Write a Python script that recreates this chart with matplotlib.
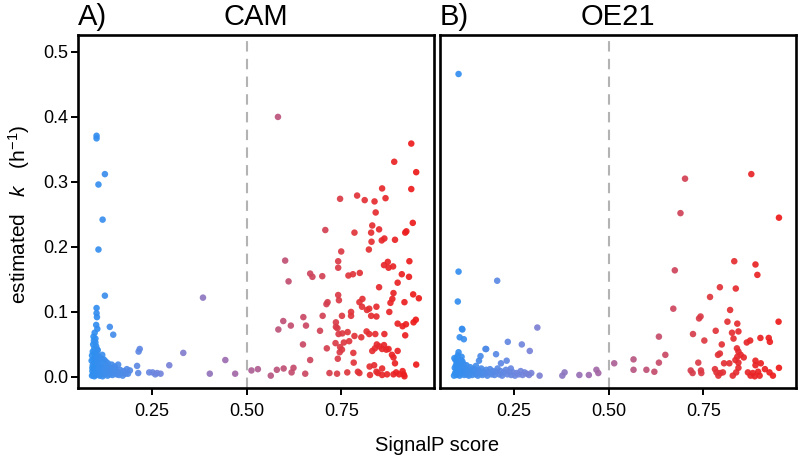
import numpy as np
import matplotlib
matplotlib.use('Agg')
import matplotlib.pyplot as plt
from matplotlib.colors import LinearSegmentedColormap, Normalize

plt.rcParams['font.family'] = 'Liberation Sans'
plt.rcParams['mathtext.fontset'] = 'custom'
plt.rcParams['mathtext.rm'] = 'Liberation Sans'
plt.rcParams['mathtext.it'] = 'Liberation Sans:italic'

panel_tags = ['A)', 'B)']
panel_names = ['CAM', 'OE21']
x_ticks = [0.25, 0.50, 0.75]
y_ticks = [0.0, 0.1, 0.2, 0.3, 0.4, 0.5]

# CAM: (SignalP score, estimated k)
cam_pts = [
    (0.583, 0.400), (0.104, 0.371), (0.104, 0.367), (0.935, 0.359), (0.890, 0.331), (0.948, 0.315),
    (0.126, 0.312), (0.109, 0.296), (0.858, 0.290), (0.935, 0.289), (0.747, 0.274), (0.792, 0.279),
    (0.812, 0.272), (0.838, 0.270), (0.867, 0.275), (0.841, 0.253), (0.120, 0.242), (0.939, 0.237),
    (0.708, 0.226), (0.785, 0.222), (0.832, 0.233), (0.829, 0.222), (0.850, 0.227), (0.830, 0.208),
    (0.857, 0.210), (0.864, 0.213), (0.892, 0.211), (0.919, 0.222), (0.922, 0.224), (0.109, 0.196),
    (0.823, 0.196), (0.750, 0.193), (0.602, 0.179), (0.742, 0.178), (0.742, 0.168), (0.873, 0.177),
    (0.863, 0.172), (0.875, 0.168), (0.887, 0.170), (0.930, 0.178), (0.668, 0.159), (0.674, 0.154),
    (0.700, 0.155), (0.769, 0.156), (0.781, 0.158), (0.799, 0.160), (0.910, 0.158), (0.929, 0.154),
    (0.611, 0.147), (0.850, 0.138), (0.899, 0.145), (0.126, 0.125), (0.385, 0.122), (0.888, 0.129),
    (0.885, 0.120), (0.880, 0.114), (0.940, 0.127), (0.955, 0.121), (0.917, 0.115), (0.742, 0.126),
    (0.744, 0.118), (0.714, 0.115), (0.711, 0.112), (0.806, 0.120), (0.798, 0.115), (0.805, 0.108),
    (0.818, 0.103), (0.824, 0.105), (0.843, 0.108), (0.829, 0.094), (0.843, 0.093), (0.776, 0.100),
    (0.776, 0.094), (0.752, 0.094), (0.877, 0.100), (0.701, 0.094), (0.650, 0.092), (0.597, 0.086),
    (0.617, 0.079), (0.584, 0.073), (0.657, 0.079), (0.694, 0.071), (0.736, 0.084), (0.736, 0.077),
    (0.740, 0.075), (0.899, 0.082), (0.912, 0.078), (0.921, 0.081), (0.941, 0.084), (0.947, 0.088),
    (0.743, 0.066), (0.753, 0.067), (0.767, 0.069), (0.785, 0.063), (0.803, 0.061), (0.817, 0.070),
    (0.824, 0.066), (0.840, 0.066), (0.864, 0.066), (0.919, 0.064), (0.649, 0.050), (0.735, 0.052),
    (0.757, 0.053), (0.771, 0.055), (0.747, 0.046), (0.752, 0.042), (0.712, 0.044), (0.746, 0.038),
    (0.782, 0.037), (0.832, 0.040), (0.839, 0.044), (0.844, 0.050), (0.851, 0.047), (0.858, 0.043),
    (0.863, 0.049), (0.869, 0.042), (0.875, 0.043), (0.884, 0.034), (0.888, 0.030), (0.899, 0.040),
    (0.668, 0.026), (0.783, 0.022), (0.837, 0.018), (0.825, 0.016), (0.858, 0.013), (0.892, 0.021),
    (0.948, 0.019), (0.741, 0.028),
    (0.564, 0.002), (0.580, 0.011), (0.598, 0.013), (0.619, 0.007), (0.624, 0.014), (0.655, 0.005),
    (0.719, 0.006), (0.739, 0.005), (0.766, 0.007), (0.794, 0.008), (0.798, 0.006), (0.826, 0.003),
    (0.843, 0.008), (0.847, 0.006), (0.858, 0.003), (0.871, 0.004), (0.888, 0.004), (0.895, 0.007),
    (0.903, 0.004), (0.912, 0.009), (0.915, 0.004), (0.917, 0.001),
    (0.513, 0.010), (0.530, 0.012), (0.470, 0.005), (0.444, 0.026), (0.403, 0.005), (0.333, 0.037),
    (0.296, 0.018), (0.218, 0.043), (0.215, 0.039), (0.243, 0.007), (0.252, 0.007), (0.259, 0.004),
    (0.264, 0.006), (0.273, 0.005), (0.214, 0.006), (0.211, 0.017), (0.192, 0.010), (0.187, 0.005),
    (0.139, 0.077), (0.148, 0.065),
    (0.104, 0.106), (0.104, 0.098), (0.105, 0.092), (0.103, 0.080), (0.106, 0.074), (0.101, 0.059),
    (0.101, 0.053), (0.103, 0.047), (0.106, 0.042), (0.107, 0.041),
    (0.092, 0.002), (0.095, 0.004), (0.098, 0.001), (0.100, 0.006), (0.093, 0.009), (0.097, 0.012),
    (0.101, 0.015), (0.094, 0.018), (0.099, 0.021), (0.103, 0.024), (0.096, 0.027), (0.100, 0.031),
    (0.104, 0.034), (0.098, 0.037), (0.102, 0.003), (0.105, 0.008), (0.108, 0.011), (0.106, 0.016),
    (0.109, 0.020), (0.107, 0.026), (0.104, 0.029), (0.110, 0.004), (0.112, 0.002), (0.113, 0.007),
    (0.111, 0.013), (0.114, 0.017), (0.116, 0.022), (0.115, 0.010), (0.118, 0.005), (0.120, 0.001),
    (0.121, 0.009), (0.123, 0.014), (0.125, 0.004), (0.127, 0.011), (0.129, 0.018), (0.131, 0.006),
    (0.133, 0.002), (0.135, 0.010), (0.137, 0.015), (0.139, 0.004), (0.141, 0.008), (0.143, 0.013),
    (0.146, 0.003), (0.149, 0.009), (0.151, 0.006), (0.154, 0.012), (0.157, 0.004), (0.160, 0.008),
    (0.163, 0.003), (0.166, 0.011), (0.169, 0.006), (0.173, 0.002), (0.176, 0.009), (0.180, 0.005),
    (0.184, 0.012), (0.128, 0.024), (0.134, 0.021), (0.123, 0.027), (0.144, 0.019), (0.098, 0.044),
    (0.095, 0.050), (0.097, 0.056), (0.096, 0.062), (0.099, 0.068), (0.094, 0.039), (0.092, 0.033),
    (0.091, 0.025), (0.093, 0.014), (0.109, 0.032), (0.117, 0.028), (0.152, 0.016), (0.161, 0.019),
    (0.119, 0.034),
]

# OE21
oe21_pts = [
    (0.104, 0.466), (0.702, 0.305), (0.877, 0.312), (0.690, 0.252), (0.950, 0.245), (0.104, 0.162),
    (0.206, 0.148), (0.102, 0.116), (0.675, 0.164), (0.832, 0.178), (0.888, 0.173), (0.893, 0.157),
    (0.794, 0.138), (0.836, 0.136), (0.768, 0.123), (0.671, 0.105), (0.821, 0.103), (0.743, 0.093),
    (0.739, 0.090), (0.814, 0.085), (0.840, 0.082), (0.949, 0.085), (0.114, 0.073), (0.107, 0.061),
    (0.118, 0.058), (0.312, 0.076), (0.783, 0.071), (0.826, 0.068), (0.843, 0.070), (0.723, 0.066),
    (0.633, 0.062), (0.753, 0.056), (0.830, 0.059), (0.901, 0.060), (0.923, 0.060), (0.926, 0.054),
    (0.865, 0.053), (0.874, 0.056), (0.799, 0.050), (0.234, 0.054), (0.271, 0.050), (0.177, 0.043),
    (0.292, 0.040), (0.839, 0.044), (0.843, 0.039), (0.849, 0.034), (0.794, 0.036), (0.789, 0.034),
    (0.857, 0.030), (0.840, 0.031), (0.835, 0.026), (0.843, 0.022), (0.162, 0.032), (0.158, 0.025),
    (0.203, 0.035), (0.231, 0.025), (0.216, 0.021), (0.650, 0.034), (0.633, 0.022), (0.566, 0.027),
    (0.515, 0.021), (0.566, 0.011), (0.600, 0.011), (0.621, 0.008), (0.737, 0.022), (0.805, 0.021),
    (0.819, 0.021), (0.888, 0.025), (0.902, 0.021), (0.888, 0.018), (0.950, 0.014),
    (0.717, 0.010), (0.722, 0.006), (0.744, 0.010), (0.745, 0.006), (0.781, 0.012), (0.785, 0.007),
    (0.790, 0.002), (0.795, 0.006), (0.802, 0.007), (0.828, 0.002), (0.837, 0.007), (0.843, 0.014),
    (0.868, 0.007), (0.875, 0.002), (0.881, 0.006), (0.886, 0.001), (0.895, 0.008), (0.899, 0.002),
    (0.913, 0.012), (0.925, 0.007), (0.934, 0.002),
    (0.318, 0.002), (0.378, 0.002), (0.384, 0.007), (0.423, 0.003), (0.448, 0.003), (0.468, 0.011),
    (0.473, 0.006), (0.104, 0.038), (0.175, 0.043), (0.113, 0.074),
    (0.092, 0.002), (0.095, 0.006), (0.098, 0.010), (0.094, 0.014), (0.097, 0.018), (0.100, 0.022),
    (0.096, 0.026), (0.101, 0.030), (0.099, 0.003), (0.103, 0.007), (0.106, 0.012), (0.104, 0.017),
    (0.108, 0.021), (0.110, 0.026), (0.107, 0.002), (0.111, 0.005), (0.113, 0.010), (0.115, 0.015),
    (0.117, 0.020), (0.114, 0.024), (0.119, 0.003), (0.121, 0.008), (0.123, 0.013), (0.125, 0.018),
    (0.126, 0.004), (0.129, 0.009), (0.131, 0.002), (0.134, 0.006), (0.137, 0.011), (0.140, 0.003),
    (0.143, 0.008), (0.146, 0.012), (0.149, 0.004), (0.152, 0.008), (0.155, 0.002), (0.158, 0.010),
    (0.161, 0.005), (0.164, 0.013), (0.167, 0.003), (0.170, 0.008), (0.174, 0.005), (0.177, 0.011),
    (0.180, 0.002), (0.184, 0.007), (0.187, 0.012), (0.191, 0.004), (0.195, 0.009), (0.199, 0.003),
    (0.203, 0.008), (0.207, 0.013), (0.211, 0.004), (0.215, 0.009), (0.219, 0.002), (0.224, 0.007),
    (0.229, 0.011), (0.233, 0.004), (0.238, 0.008), (0.243, 0.003), (0.248, 0.007), (0.253, 0.002),
    (0.258, 0.006), (0.263, 0.004), (0.268, 0.009), (0.273, 0.003), (0.278, 0.007), (0.284, 0.005),
    (0.290, 0.003), (0.296, 0.006), (0.093, 0.029), (0.102, 0.033), (0.112, 0.031), (0.135, 0.015),
    (0.150, 0.017), (0.242, 0.013),
]

cmap = LinearSegmentedColormap.from_list(
    'bluered', ['#2f8ff0', '#6f86de', '#9a6fb4', '#c14f72', '#e0353b', '#ee1a1a'])
norm = Normalize(vmin=0.09, vmax=0.95)

fig = plt.figure(figsize=(8, 4.62), dpi=100)
axes = [fig.add_axes([78 / 800, 1 - 388 / 462, 356 / 800, 353 / 462]),
        fig.add_axes([440 / 800, 1 - 388 / 462, 356 / 800, 353 / 462])]

for i, (ax, pts) in enumerate(zip(axes, [cam_pts, oe21_pts])):
    xs = np.array([p[0] for p in pts])
    ys = np.array([p[1] for p in pts])
    ax.axvline(0.5, color='#b3b3b3', lw=1.5, ls=(0, (5, 3.5)), zorder=1)
    ax.scatter(xs, ys, c=xs, cmap=cmap, norm=norm, s=22, edgecolors='none', alpha=0.92, zorder=2)
    ax.set_xlim(0.055, 0.995)
    ax.set_ylim(-0.017, 0.526)
    ax.set_xticks(x_ticks)
    ax.set_xticklabels(['0.25', '0.50', '0.75'])
    for sp in ax.spines.values():
        sp.set_linewidth(1.9)
        sp.set_color('black')
    ax.tick_params(axis='x', length=5, width=1.4, labelsize=13, colors='black', pad=6)
    if i == 0:
        ax.set_yticks(y_ticks)
        ax.set_yticklabels([f'{v:.1f}' for v in y_ticks])
        ax.tick_params(axis='y', length=5, width=1.4, labelsize=13, pad=2)
    else:
        ax.set_yticks([])
    ax.set_title(panel_names[i], fontsize=21, pad=7)
    ax.set_title(panel_tags[i], fontsize=21, pad=7, loc='left')

fig.text(0.546, 0.036, 'SignalP score', ha='center', va='center', fontsize=14.5)
fig.text(0.024, 0.535, r'estimated   $\it{k}$   (h$^{-1}$)', ha='center', va='center',
         rotation=90, fontsize=15)

fig.savefig('out.png', dpi=100)
